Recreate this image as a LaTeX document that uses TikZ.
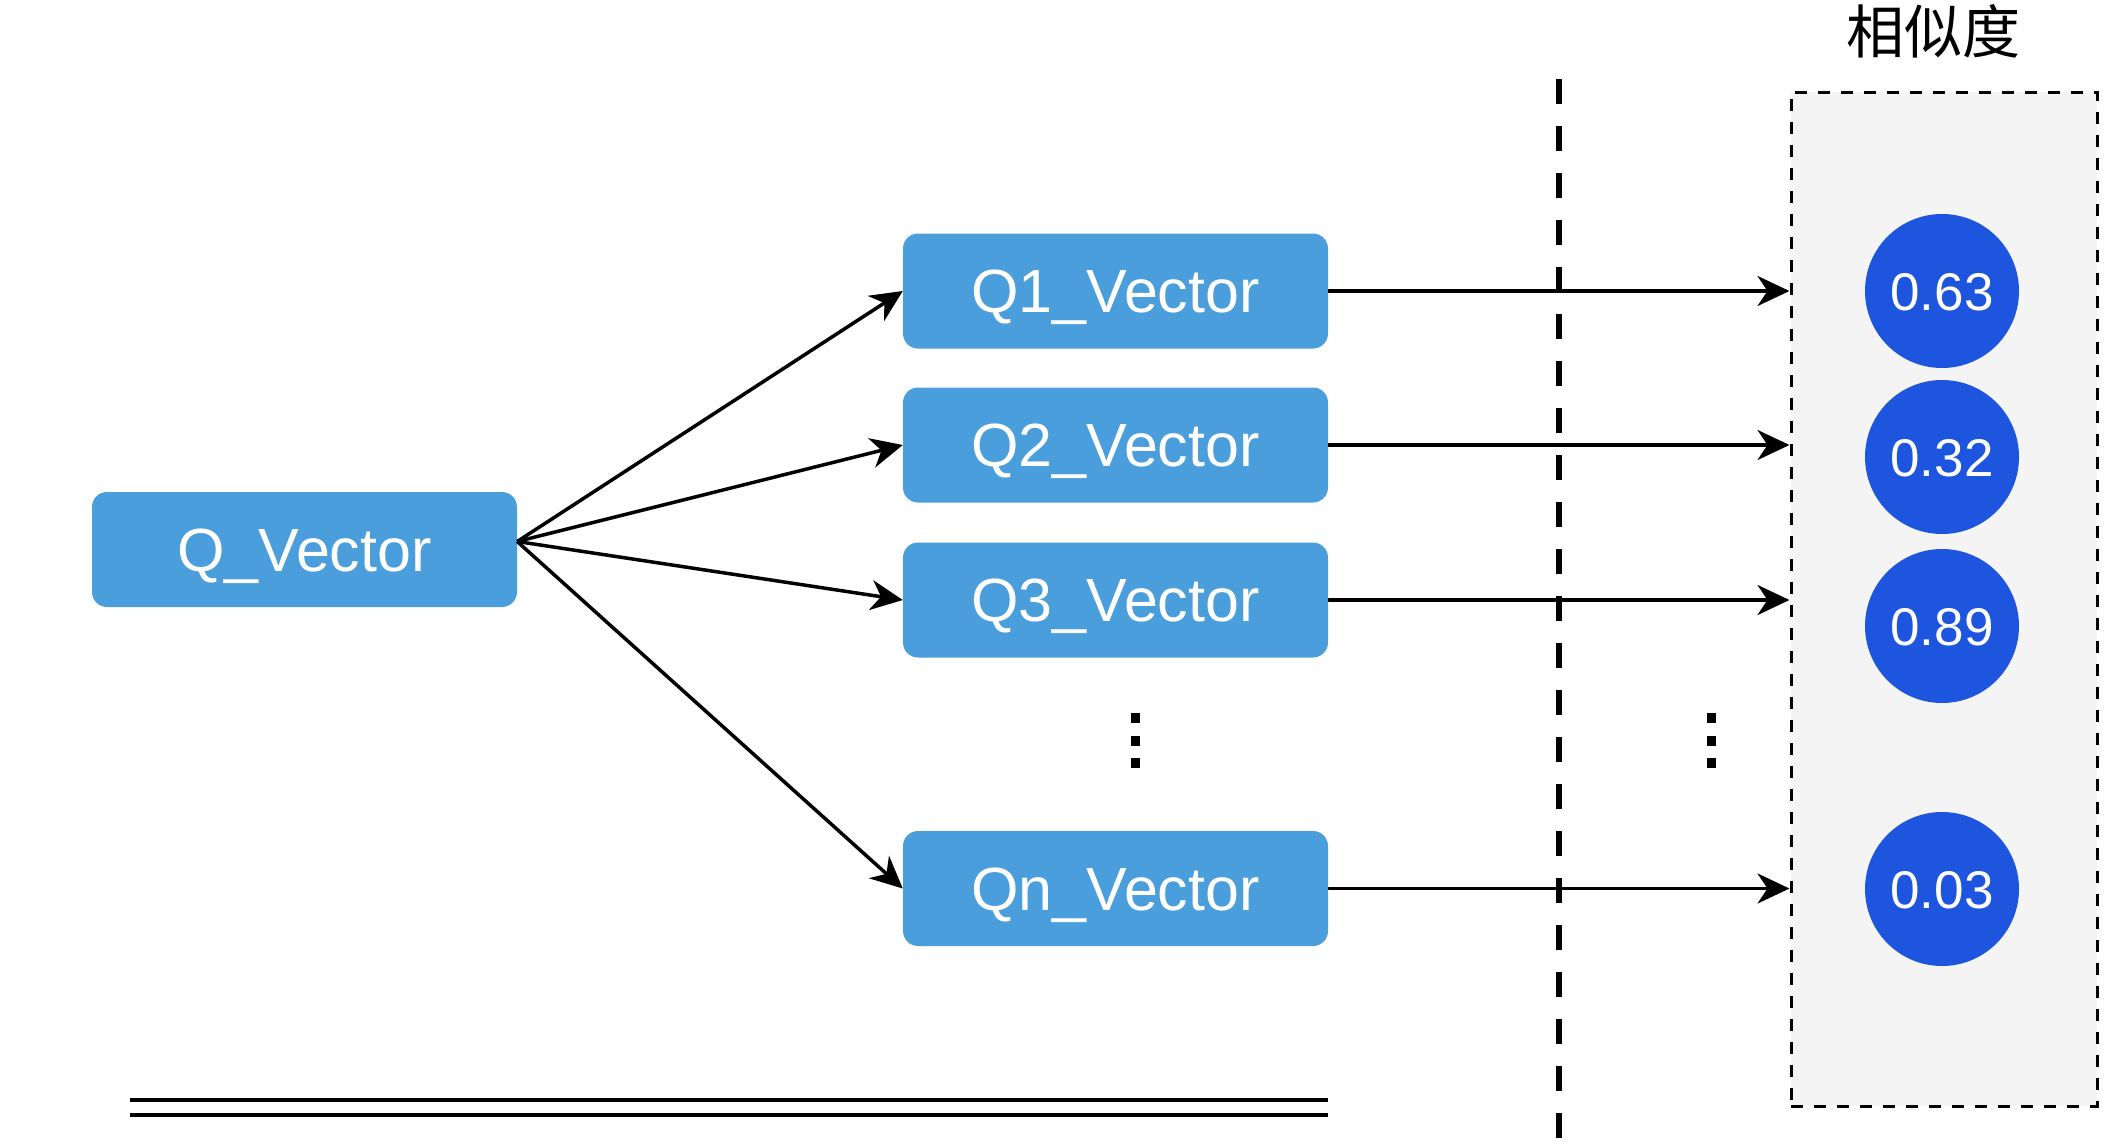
\documentclass[tikz,border=0pt]{standalone}
\usepackage{fontspec}
\setmainfont{Liberation Sans}
\newfontfamily\cjk{Noto Sans CJK SC}
\usetikzlibrary{arrows.meta}
\definecolor{boxblue}{RGB}{74,158,219}
\definecolor{dotblue}{RGB}{29,85,222}
\definecolor{panelgray}{RGB}{244,244,244}

\begin{document}
\begin{tikzpicture}[x=1pt,y=-1pt,
  vec/.style={draw=none, fill=boxblue, rounded corners=15pt,
    minimum width=425pt, minimum height=115pt, inner sep=0pt,
    text=white, font=\fontsize{61}{70}\selectfont,
    text height=43.7pt, text depth=0pt},
  score/.style={circle, fill=dotblue, minimum size=154pt, inner sep=0pt,
    text=white, font=\fontsize{53}{60}\selectfont,
    text height=38pt, text depth=0pt},
  link/.style={line width=3.5pt, -{Stealth[length=32pt,width=30pt,inset=10pt]}},
  panelbox/.style={draw=black, line width=3pt, dash pattern=on 12pt off 11pt,
    fill=panelgray, minimum width=306pt, minimum height=1014pt, inner sep=0pt},
  divider/.style={line width=6pt, dash pattern=on 25pt off 22pt},
  vdots/.style={line width=9pt, dash pattern=on 10pt off 12.5pt},
  rule/.style={line width=4pt}
  ]
\useasboundingbox (0,0) rectangle (2126,1146);

% score panel and its heading
\node[panelbox] (panel) at (1944,599) {};
\node[font=\cjk\fontsize{58}{64}\selectfont] (title) at (1933,31) {相似度};

% vertical separator
\coordinate (septop) at (1559,79);
\coordinate (sepbot) at (1559,1150);
\draw[divider] (septop) -- (sepbot);

% query and candidate vectors
\node[vec] (q)  at (304.5,549.5) {Q\_Vector};
\node[vec] (q1) at (1115.5,291)  {Q1\_Vector};
\node[vec] (q2) at (1115.5,445)  {Q2\_Vector};
\node[vec] (q3) at (1115.5,600)  {Q3\_Vector};
\node[vec] (qn) at (1115.5,888.5) {Qn\_Vector};

% similarity scores
\node[score] (s1) at (1942,291) {0.63};
\node[score] (s2) at (1942,457) {0.32};
\node[score] (s3) at (1942,626) {0.89};
\node[score] (sn) at (1942,889) {0.03};

% fan-out from the query vector
\coordinate (src) at ([yshift=8pt]q.east);
\draw[link] (src) -- (q1.west);
\draw[link] (src) -- (q2.west);
\draw[link] (src) -- (q3.west);
\draw[link] (src) -- (qn.west);

% candidate vectors to their scores
\draw[link] (q1.east) -- (panel.west |- q1.east);
\draw[link] (q2.east) -- (panel.west |- q2.east);
\draw[link] (q3.east) -- (panel.west |- q3.east);
\draw[link] (qn.east) -- (panel.west |- qn.east);

% ellipsis marks
\coordinate (da1) at (1135,713);
\coordinate (da2) at (1135,769);
\coordinate (db1) at (1711,713);
\coordinate (db2) at (1711,769);
\draw[vdots] (da1) -- (da2);
\draw[vdots] (db1) -- (db2);

% double rule at the bottom
\coordinate (r1a) at (130,1100);
\coordinate (r1b) at (1328,1100);
\coordinate (r2a) at (130,1115);
\coordinate (r2b) at (1328,1115);
\draw[rule] (r1a) -- (r1b);
\draw[rule] (r2a) -- (r2b);
\end{tikzpicture}
\end{document}
